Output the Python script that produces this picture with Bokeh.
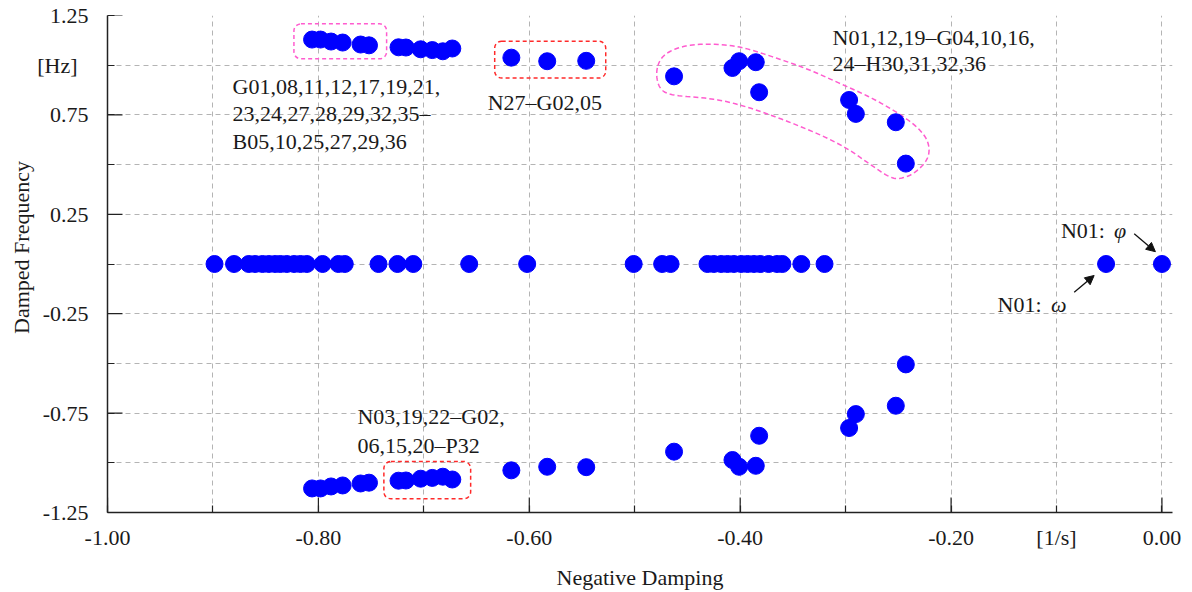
import numpy as np
from bokeh.plotting import figure
from bokeh.models import FixedTicker, BoxAnnotation, Arrow, NormalHead
from bokeh.core.properties import value
from bokeh.embed import file_html
from bokeh.resources import INLINE

# ---------------- data ----------------
# oscillatory modes (upper half plane); their conjugates are drawn mirrored
osc_damping = [-0.806, -0.798, -0.788, -0.777, -0.760, -0.752,
               -0.724, -0.717, -0.703, -0.692, -0.682, -0.673,
               -0.617, -0.583, -0.546,
               -0.4627, -0.4073, -0.401, -0.3852, -0.382, -0.2967, -0.2903, -0.2524, -0.2429]
osc_freq = [1.129, 1.129, 1.119, 1.114, 1.104, 1.100,
            1.090, 1.089, 1.080, 1.076, 1.070, 1.084,
            1.038, 1.020, 1.022,
            0.944, 0.986, 1.020, 1.015, 0.864, 0.825, 0.755, 0.713, 0.505]
# real (non-oscillatory) modes
real_damping = [-0.8985, -0.880, -0.866, -0.860, -0.853, -0.847, -0.841, -0.836, -0.830,
                -0.823, -0.817, -0.811, -0.796, -0.781, -0.775, -0.743, -0.725, -0.710,
                -0.657, -0.602, -0.501, -0.474, -0.466, -0.431, -0.425, -0.418, -0.412,
                -0.406, -0.399, -0.393, -0.387, -0.381, -0.373, -0.365, -0.360, -0.342,
                -0.320, -0.053, 0.0]

x_tick_values = [-1.0, -0.8, -0.6, -0.4, -0.2, 0.0]
x_tick_labels = ["-1.00", "-0.80", "-0.60", "-0.40", "-0.20", "0.00"]
x_unit_value, x_unit_label = -0.1, "[1/s]"
x_minor_values = [-0.9, -0.7, -0.5, -0.3]
y_tick_values = [1.25, 0.75, 0.25, -0.25, -0.75, -1.25]
y_tick_labels = ["1.25", "0.75", "0.25", "-0.25", "-0.75", "-1.25"]
y_unit_value, y_unit_label = 1.0, "[Hz]"
y_minor_values = [0.5, 0.0, -0.5, -1.0]

FONT = "Liberation Serif"
BLUE = "#0000ff"
PINK = "#ff5ccf"
RED = "#ff2a2a"
TXT = "#1a1a1a"
NB = "\u00a0"

X0, X1, Y0, Y1 = -1.0, 0.01, -1.25, 1.25
FW, FH = 1065, 497

p = figure(frame_width=FW, frame_height=FH,
           x_range=(X0, X1), y_range=(Y0, Y1),
           min_border_left=107, min_border_right=12, min_border_top=15, min_border_bottom=74,
           output_backend="svg", toolbar_location=None)
p.outline_line_color = None
p.background_fill_color = "white"
p.border_fill_color = "white"

# axes
p.xaxis.ticker = FixedTicker(ticks=x_tick_values + [x_unit_value], minor_ticks=x_minor_values)
p.yaxis.ticker = FixedTicker(ticks=y_tick_values + [y_unit_value], minor_ticks=y_minor_values)
xo = {v: s for v, s in zip(x_tick_values, x_tick_labels)}
xo[x_unit_value] = x_unit_label
yo = {v: s for v, s in zip(y_tick_values, y_tick_labels)}
yo[y_unit_value] = y_unit_label + NB * 2
p.xaxis.major_label_overrides = xo
p.yaxis.major_label_overrides = yo
for ax in (p.xaxis[0], p.yaxis[0]):
    ax.axis_line_color = "#222222"
    ax.axis_line_width = 1.5
    ax.major_tick_in = 7
    ax.major_tick_out = 0
    ax.minor_tick_in = 7
    ax.minor_tick_out = 0
    ax.major_tick_line_color = "#222222"
    ax.minor_tick_line_color = "#222222"
    ax.major_tick_line_width = 1.2
    ax.minor_tick_line_width = 1.2
    ax.major_label_text_font = FONT
    ax.major_label_text_font_size = "22px"
    ax.major_label_text_color = TXT
    ax.axis_label_text_font = FONT
    ax.axis_label_text_font_size = "22px"
    ax.axis_label_text_font_style = "normal"
    ax.axis_label_text_color = TXT
p.xaxis.major_label_standoff = 12
p.yaxis.major_label_standoff = 19
p.xaxis.axis_label = "Negative Damping"
p.xaxis.axis_label_standoff = 12
p.yaxis.axis_label = NB * 6 + "Damped Frequency"
p.yaxis.axis_label_standoff = 0

# long (labelled) tick marks drawn inside the frame
tick_len = 15
dx = tick_len * (X1 - X0) / FW
dy = tick_len * (Y1 - Y0) / FH
p.segment(x0=x_tick_values, y0=[Y0] * len(x_tick_values), x1=x_tick_values,
          y1=[Y0 + dy] * len(x_tick_values), line_color="#222222", line_width=1.2)
p.segment(x0=[X0] * len(y_tick_values), y0=y_tick_values, x1=[X0 + dx] * len(y_tick_values),
          y1=y_tick_values, line_color="#222222", line_width=1.2)

# grid
p.xgrid.ticker = FixedTicker(ticks=[round(-1.0 + 0.1 * i, 2) for i in range(11)])
p.ygrid.ticker = FixedTicker(ticks=[round(-1.25 + 0.25 * i, 2) for i in range(11)])
for g in (p.xgrid[0], p.ygrid[0]):
    g.grid_line_color = "#b4b4b4"
    g.grid_line_dash = "5 4"
    g.grid_line_width = 1

# annotation shapes
def rbox(l, r, b, t, color):
    p.add_layout(BoxAnnotation(left=l, right=r, bottom=b, top=t, fill_alpha=0,
                               line_color=color, line_alpha=1.0, line_dash="4 3",
                               line_width=1.5, border_radius=7))

rbox(-0.8232, -0.7353, 1.032, 1.208, PINK)
rbox(-0.6328, -0.5275, 0.935, 1.121, RED)
rbox(-0.7379, -0.6556, -1.181, -0.9935, RED)

capsule = [(-0.4801, 0.9648), (-0.4753, 1.0402), (-0.4627, 1.0825), (-0.4469, 1.1026),
           (-0.4263, 1.1077), (-0.3994, 1.0941), (-0.3678, 1.0402), (-0.3362, 0.9819),
           (-0.3046, 0.9064), (-0.2730, 0.8310), (-0.2413, 0.7304), (-0.2255, 0.6549),
           (-0.2201, 0.5875), (-0.2223, 0.5206), (-0.2350, 0.4537), (-0.2476, 0.4286),
           (-0.2571, 0.4316), (-0.2730, 0.4869), (-0.3046, 0.6046), (-0.3520, 0.7133),
           (-0.3994, 0.8023), (-0.4310, 0.8360), (-0.4659, 0.8476), (-0.4769, 0.8813)]
pts = np.array(capsule)
for _ in range(3):
    nxt = np.roll(pts, -1, axis=0)
    q = 0.75 * pts + 0.25 * nxt
    r = 0.25 * pts + 0.75 * nxt
    pts = np.empty((2 * len(q), 2))
    pts[0::2] = q
    pts[1::2] = r
pts = np.vstack([pts, pts[:1]])
p.line(pts[:, 0], pts[:, 1], line_color=PINK, line_dash="5 3", line_width=1.5)

# data points
xs = osc_damping + osc_damping + real_damping
ys = osc_freq + [-f for f in osc_freq] + [0.0] * len(real_damping)
p.scatter(xs, ys, size=17, fill_color=BLUE, line_color=BLUE)

# texts
tx = [-0.8814, -0.8814, -0.8814, -0.6395, -0.3124, -0.3124, -0.763, -0.763, -0.0958, -0.1559]
ty = [0.893, 0.755, 0.617, 0.814, 1.141, 1.007, -0.767, -0.913, 0.1685, -0.2037]
tt = ["G01,08,11,12,17,19,21,", "23,24,27,28,29,32,35\u2013", "B05,10,25,27,29,36",
      "N27\u2013G02,05",
      "N01,12,19\u2013G04,10,16,", "24\u2013H30,31,32,36",
      "N03,19,22\u2013G02,", "06,15,20\u2013P32",
      "N01: ", "N01: "]
p.text(tx, ty, text=tt, text_font=value(FONT), text_font_size="22px", text_color=TXT,
       text_align="left", text_baseline="alphabetic")
p.text([-0.0455, -0.1053], [0.1685, -0.2037], text=["\u03c6", "\u03c9"], text_font=value(FONT),
       text_font_size="22px", text_font_style="italic", text_color=TXT,
       text_align="left", text_baseline="alphabetic")

# arrows
p.add_layout(Arrow(end=NormalHead(size=9, fill_color="#111111", line_color="#111111"),
                   x_start=-0.0263, y_start=0.152, x_end=-0.0062, y_end=0.062,
                   line_color="#111111", line_width=1.3))
p.add_layout(Arrow(end=NormalHead(size=9, fill_color="#111111", line_color="#111111"),
                   x_start=-0.0832, y_start=-0.1418, x_end=-0.0643, y_end=-0.0578,
                   line_color="#111111", line_width=1.3))

open("out.html", "w").write(file_html(p, INLINE))
